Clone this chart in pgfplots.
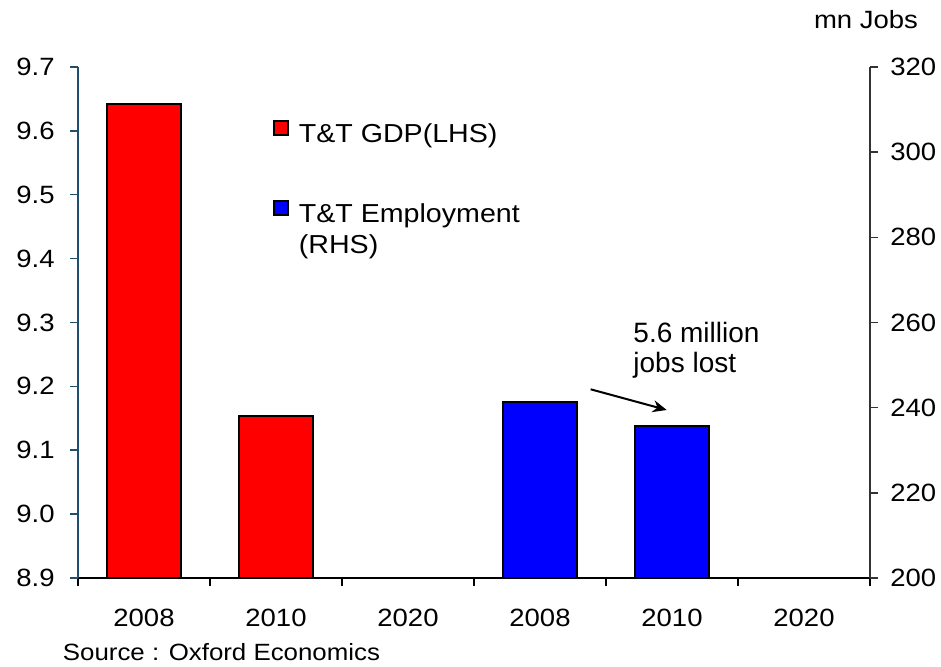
\documentclass[border=0pt]{standalone}
\usepackage{pgfplots}
\pgfplotsset{compat=1.18}
\usetikzlibrary{arrows.meta}
\usepackage{fontspec}
\setmainfont{Liberation Sans}
\newfontfamily\wide[FakeStretch=1.1]{Liberation Sans}
\definecolor{laxis}{RGB}{31,78,110}
\pgfplotsset{
  sqlegend/.style={legend image code/.code={\draw[##1, line width=0.75pt] (0pt,0.6pt) rectangle (7pt,7.6pt);}},
  common/.style={
    width=396pt, height=255.5pt, scale only axis,
    xmin=-0.5, xmax=5.5,
    ybar, bar width=37pt,
    tick align=outside,
    major tick length=4pt,
    /pgf/number format/assume math mode=true,
    ticklabel style={font=\wide\fontsize{12.5}{14}\selectfont, inner sep=0pt},
    clip mode=individual,
    legend style={draw=none, fill=none, inner sep=0pt, row sep=3pt, column sep=5pt,
      font=\wide\fontsize{13}{15}\selectfont,
      nodes={inner sep=0pt, text height=9.5pt, text depth=3pt}},
    legend cell align=left,
  }
}
\begin{document}
\begin{tikzpicture}
\begin{axis}[common,
  axis x line*=bottom, axis y line*=left,
  x axis line style={black, line width=0.75pt},
  y axis line style={laxis, line width=0.75pt},
  ymin=8.9, ymax=9.7,
  ytick={8.9,9.0,9.1,9.2,9.3,9.4,9.5,9.6,9.7},
  yticklabel style={/pgf/number format/fixed, /pgf/number format/fixed zerofill, /pgf/number format/precision=1, anchor=east, xshift=-7.5pt},
  ytick style={laxis, line width=0.75pt},
  xtick={-0.5,0.5,...,5.5},
  xticklabels={2008,2010,2020,2008,2010,2020},
  x tick label as interval,
  xtick style={black, line width=0.75pt},
  xticklabel style={anchor=north, yshift=-11.5pt, font=\wide\fontsize{12.5}{14}\selectfont},
  legend style={at={(rel axis cs:0.2462,0.8963)}, anchor=north west},
]
\addplot[fill=red, draw=black, line width=0.75pt, sqlegend] coordinates {(0,9.642) (1,9.154)};
\addlegendentry{T\&T GDP(LHS)}
\coordinate (bl) at (rel axis cs:0,0);
\coordinate (tr) at (rel axis cs:1,1);
\node[anchor=north west, align=left, inner sep=0pt, font=\fontsize{14}{15}\selectfont]
  at (rel axis cs:0.7008,0.501) {5.6 million\\jobs lost};
\draw[-{Stealth[length=7pt,width=6pt]}, line width=1pt] (rel axis cs:0.6473,0.3693) -- (rel axis cs:0.7433,0.3288);
\node[anchor=base west, inner sep=0pt, font=\wide\fontsize{11.75}{14}\selectfont]
  at (rel axis cs:-0.0195,-0.1624) {Source : Oxford Economics};
\node[anchor=center, inner sep=0pt, font=\wide\fontsize{12.5}{14}\selectfont]
  at (rel axis cs:0.995,1.092) {mn Jobs};
\end{axis}
\begin{axis}[common,
  axis x line=none, axis y line*=right,
  y axis line style={black!80, line width=0.75pt},
  ymin=200, ymax=320,
  ytick={200,220,240,260,280,300,320},
  yticklabel style={anchor=west, xshift=6pt},
  ytick style={black!80, line width=0.75pt},
  xtick=\empty,
  legend style={at={(rel axis cs:0.2462,0.7397)}, anchor=north west},
]
\addplot[fill=blue, draw=black, line width=0.75pt, sqlegend] coordinates {(3,241.3) (4,235.7)};
\addlegendentry{T\&T Employment}
\addlegendimage{empty legend}
\addlegendentry{(RHS)}
\end{axis}
\pgfresetboundingbox
\path ([shift={(-39pt,-44.5pt)}]bl) rectangle ([shift={(35.5pt,33.5pt)}]tr);
\end{tikzpicture}
\end{document}
